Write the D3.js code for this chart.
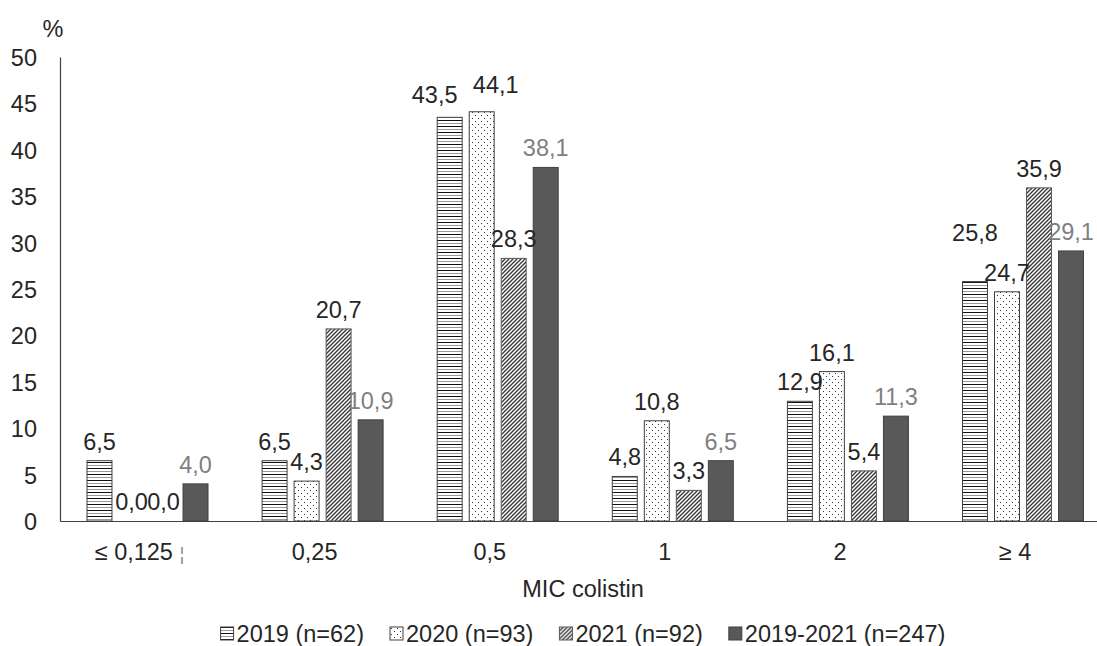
<!DOCTYPE html>
<html>
<head>
<meta charset="utf-8">
<script src="https://cdn.jsdelivr.net/npm/d3@7"></script>
<style>
  body { margin: 0; background: #fff; }
  svg { display: block; }
  text { font-family: "Liberation Sans", Arial, sans-serif; }
</style>
</head>
<body>
<svg id="chart" width="1097" height="646"></svg>
<script>
// MIC colistin distribution, share of isolates (%) per year
const categories = ["≤ 0,125 ¦", "0,25", "0,5", "1", "2", "≥ 4"];
const seriesNames = ["2019 (n=62)", "2020 (n=93)", "2021 (n=92)", "2019-2021 (n=247)"];
const values2019 = [6.5, 6.5, 43.5, 4.8, 12.9, 25.8];
const values2020 = [0.0, 4.3, 44.1, 10.8, 16.1, 24.7];
const values2021 = [0.0, 20.7, 28.3, 3.3, 5.4, 35.9];
const values2019to2021 = [4.0, 10.9, 38.1, 6.5, 11.3, 29.1];
const yTicks = [0, 5, 10, 15, 20, 25, 30, 35, 40, 45, 50];
const yUnit = "%";
const xTitle = "MIC colistin";

const seriesValues = [values2019, values2020, values2021, values2019to2021];

const svg = d3.select("#chart");
const FONT = 23.5;
const textDark = "#262626";
const axisColor = "#404040";

// ---------- fill patterns ----------
const defs = svg.append("defs");

const pH = defs.append("pattern").attr("id", "pat-h")
  .attr("patternUnits", "userSpaceOnUse").attr("width", 8).attr("height", 6);
pH.append("rect").attr("width", 8).attr("height", 6).attr("fill", "#fff");
pH.append("rect").attr("y", 0).attr("width", 8).attr("height", 1).attr("fill", "#111");
pH.append("rect").attr("y", 3).attr("width", 8).attr("height", 1).attr("fill", "#9a9a9a");

const pD = defs.append("pattern").attr("id", "pat-dot")
  .attr("patternUnits", "userSpaceOnUse").attr("width", 6).attr("height", 6);
pD.append("rect").attr("width", 6).attr("height", 6).attr("fill", "#fff");
pD.append("rect").attr("x", 1).attr("y", 1).attr("width", 1).attr("height", 1).attr("fill", "#333");
pD.append("rect").attr("x", 4).attr("y", 4).attr("width", 1).attr("height", 1).attr("fill", "#333");

const pS = defs.append("pattern").attr("id", "pat-diag")
  .attr("patternUnits", "userSpaceOnUse").attr("width", 4).attr("height", 4);
pS.append("rect").attr("width", 4).attr("height", 4).attr("fill", "#fff");
pS.append("path").attr("d", "M-1,1 L1,-1 M0,4 L4,0 M3,5 L5,3")
  .attr("stroke", "#333").attr("stroke-width", 1.3);

const fills = ["url(#pat-h)", "url(#pat-dot)", "url(#pat-diag)", "#595959"];
const strokes = ["#404040", "#404040", "#595959", "#404040"];
const labelColors = [textDark, textDark, textDark, "#7f7f7f"];

// ---------- scales ----------
const x0 = d3.scaleBand().domain(categories).range([60, 1110.6]).padding(0);
const x1 = d3.scaleBand().domain(d3.range(seriesNames.length))
  .range([27, 148]).paddingInner(0.22).paddingOuter(0);
const y = d3.scaleLinear().domain([0, 50]).range([521, 57]);

// ---------- axes ----------
const yAxis = svg.append("g").attr("transform", "translate(60,0)")
  .call(d3.axisLeft(y).tickValues(yTicks).tickSize(0).tickSizeOuter(0).tickPadding(23)
    .tickFormat(d => String(d)));
yAxis.select(".domain").attr("stroke", axisColor).attr("stroke-width", 1.2);
yAxis.selectAll("text").attr("font-size", FONT).attr("fill", textDark)
  .attr("font-family", "Liberation Sans, Arial, sans-serif").attr("dy", "0.36em");

const xAxis = svg.append("g").attr("transform", "translate(0,521)")
  .call(d3.axisBottom(x0).tickSize(0).tickSizeOuter(0).tickPadding(22));
xAxis.select(".domain").attr("stroke", axisColor).attr("stroke-width", 1.2);
xAxis.selectAll("text").attr("font-size", FONT).attr("fill", textDark)
  .attr("font-family", "Liberation Sans, Arial, sans-serif")
  .attr("dx", -8).attr("dy", "0.71em");
// the trailing broken bar of the first category is drawn faint and small
xAxis.selectAll("text").filter(d => d.endsWith("¦")).each(function (d) {
  const t = d3.select(this).text(null);
  t.append("tspan").text(d.slice(0, -1));
  t.append("tspan").attr("fill", "#8c8c8c").attr("font-size", 19).text("¦");
});

// ---------- bars ----------
const rows = [];
categories.forEach((c, ci) => {
  seriesValues.forEach((vals, si) => rows.push({ c, ci, si, v: vals[ci] }));
});

svg.append("g").selectAll("rect").data(rows).join("rect")
  .attr("x", d => x0(d.c) + x1(d.si))
  .attr("y", d => y(d.v))
  .attr("width", x1.bandwidth())
  .attr("height", d => y(0) - y(d.v))
  .attr("fill", d => fills[d.si])
  .attr("stroke", d => d.v > 0 ? strokes[d.si] : "none")
  .attr("stroke-width", 1);

// ---------- value labels ----------
const fmt = v => d3.format(".1f")(v).replace(".", ",");
const labelShift = { "2|0": [-15, -3], "2|1": [14, -8], "5|0": [0, -30] };
svg.append("g").selectAll("text").data(rows).join("text")
  .attr("x", d => x0(d.c) + x1(d.si) + x1.bandwidth() / 2 + (labelShift[d.ci + "|" + d.si] || [0, 0])[0])
  .attr("y", d => y(d.v) - 11 + (labelShift[d.ci + "|" + d.si] || [0, 0])[1])
  .attr("text-anchor", "middle")
  .attr("font-size", FONT)
  .attr("fill", d => labelColors[d.si])
  .text(d => fmt(d.v));

// ---------- titles ----------
svg.append("text").attr("x", 53).attr("y", 37).attr("text-anchor", "middle")
  .attr("font-size", FONT).attr("fill", textDark).text(yUnit);
svg.append("text").attr("x", 583).attr("y", 597).attr("text-anchor", "middle")
  .attr("font-size", FONT).attr("fill", textDark).text(xTitle);

// ---------- legend ----------
const legend = svg.append("g");
const items = legend.selectAll("g").data(seriesNames).join("g");
items.append("rect").attr("x", 0).attr("y", -12).attr("width", 13).attr("height", 13)
  .attr("fill", (d, i) => fills[i]).attr("stroke", (d, i) => strokes[i]).attr("stroke-width", 1);
items.append("text").attr("x", 16).attr("y", 0).attr("dy", "0.36em")
  .attr("font-size", FONT).attr("fill", textDark).text(d => d)
  .attr("transform", "translate(0,-5)");
const gap = 26;
let cx = 0;
const widths = [];
items.each(function () {
  widths.push(16 + d3.select(this).select("text").node().getComputedTextLength());
});
const total = d3.sum(widths) + gap * (widths.length - 1);
const startX = 583 - total / 2;
items.attr("transform", (d, i) => {
  const t = `translate(${startX + cx},639)`;
  cx += widths[i] + gap;
  return t;
});
</script>
</body>
</html>
